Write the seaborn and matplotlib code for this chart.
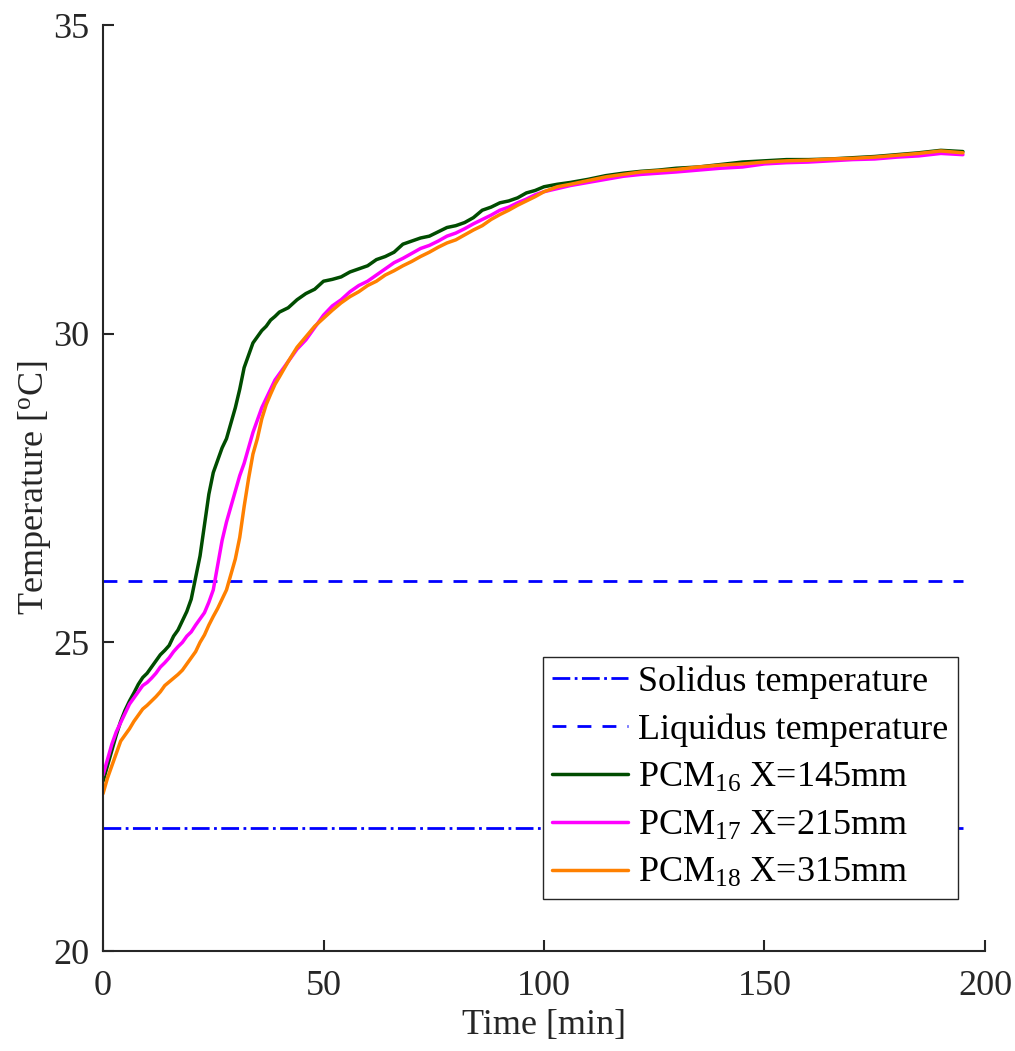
import matplotlib
matplotlib.use("Agg")
import matplotlib.pyplot as plt
import seaborn as sns
import pandas as pd

# ---- data ----
t_pcm16 = [0,1,2,3,4,5,6,7,8,9,10,11,12,13,14,15,16,17,18,19,20,21,22,23,24,25,26,27,28,29,30,31,32,33,34,35,36,37,38,39,40,42,44,46,48,50,52,54,56,58,60,62,64,66,68,70,72,74,76,78,80,82,84,86,88,90,92,94,96,98,100,103,106,110,114,118,122,126,130,135,140,145,150,155,160,165,170,175,180,185,190,195]
T_pcm16 = [22.75,23.0,23.25,23.5,23.72,23.9,24.05,24.18,24.32,24.43,24.5,24.6,24.7,24.8,24.87,24.95,25.1,25.2,25.35,25.5,25.7,26.05,26.4,26.9,27.4,27.75,27.95,28.15,28.3,28.55,28.8,29.1,29.45,29.65,29.85,29.95,30.05,30.12,30.22,30.28,30.35,30.42,30.55,30.65,30.72,30.85,30.88,30.92,31.0,31.05,31.1,31.2,31.25,31.32,31.45,31.5,31.55,31.58,31.65,31.72,31.75,31.8,31.88,32.0,32.05,32.12,32.15,32.2,32.28,32.32,32.38,32.42,32.45,32.5,32.56,32.6,32.63,32.65,32.68,32.7,32.74,32.78,32.8,32.82,32.82,32.83,32.85,32.87,32.9,32.93,32.97,32.95]

t_pcm17 = t_pcm16
T_pcm17 = [22.85,23.1,23.35,23.55,23.7,23.85,24.0,24.1,24.2,24.3,24.35,24.42,24.5,24.6,24.67,24.75,24.85,24.93,25.0,25.1,25.17,25.28,25.38,25.48,25.65,25.85,26.25,26.65,26.95,27.2,27.45,27.7,27.9,28.15,28.4,28.6,28.8,28.95,29.1,29.25,29.35,29.55,29.75,29.9,30.1,30.3,30.45,30.55,30.68,30.78,30.85,30.95,31.05,31.15,31.22,31.3,31.38,31.43,31.5,31.58,31.63,31.7,31.78,31.85,31.92,32.0,32.05,32.12,32.18,32.25,32.3,32.35,32.4,32.45,32.5,32.55,32.58,32.6,32.62,32.65,32.68,32.7,32.75,32.77,32.78,32.8,32.82,32.83,32.86,32.88,32.92,32.9]

t_pcm18 = t_pcm16
T_pcm18 = [22.55,22.8,23.0,23.2,23.4,23.5,23.6,23.72,23.82,23.92,23.98,24.05,24.12,24.2,24.3,24.36,24.42,24.48,24.55,24.65,24.75,24.85,25.0,25.12,25.28,25.42,25.55,25.7,25.85,26.1,26.35,26.7,27.2,27.65,28.05,28.3,28.62,28.85,29.02,29.18,29.3,29.55,29.78,29.95,30.12,30.25,30.38,30.5,30.6,30.68,30.78,30.85,30.95,31.02,31.1,31.17,31.25,31.32,31.4,31.47,31.52,31.6,31.68,31.75,31.85,31.93,32.0,32.08,32.15,32.22,32.3,32.38,32.42,32.48,32.54,32.58,32.62,32.64,32.66,32.7,32.73,32.75,32.78,32.8,32.81,32.83,32.84,32.86,32.89,32.92,32.96,32.93]

solidus_T = 22.0
liquidus_T = 26.0
ref_t = [0, 195]

labels = ["Solidus temperature", "Liquidus temperature",
          "PCM$_{16}$ X=145mm", "PCM$_{17}$ X=215mm", "PCM$_{18}$ X=315mm"]
colors = ["#0000FF", "#0000FF", "#004C00", "#FF00FF", "#FF8000"]

x_ticks = [0, 50, 100, 150, 200]
y_ticks = [20, 25, 30, 35]

# ---- style ----
sns.set_theme(style="ticks")
plt.rcParams["font.family"] = ["Liberation Serif", "DejaVu Serif"]
plt.rcParams["mathtext.fontset"] = "custom"
plt.rcParams["mathtext.rm"] = "Liberation Serif"
plt.rcParams["mathtext.it"] = "Liberation Serif:italic"

fig = plt.figure(figsize=(10.15, 10.51), dpi=100)
ax = fig.add_axes([0.1015, 0.0951, 0.8689, 0.8811])

ax.plot(ref_t, [solidus_T, solidus_T], color=colors[0], ls="-.", lw=2.0, label=labels[0])
ax.plot(ref_t, [liquidus_T, liquidus_T], color=colors[1], ls=(0, (5, 4)), lw=2.0, label=labels[1])

series = [(t_pcm16, T_pcm16), (t_pcm17, T_pcm17), (t_pcm18, T_pcm18)]
for (tt, TT), lab, col in zip(series, labels[2:], colors[2:]):
    df = pd.DataFrame({"t": tt, "T": TT})
    sns.lineplot(data=df, x="t", y="T", ax=ax, color=col, lw=2.5, label=lab)

ax.set_xlim(0, 200)
ax.set_ylim(20, 35)
ax.set_xticks(x_ticks)
ax.set_yticks(y_ticks)
ax.tick_params(direction="in", length=8, width=1.5, labelsize=26, colors="#262626",
               labelcolor="#262626")
ax.tick_params(axis="x", pad=14)
ax.tick_params(axis="y", pad=10)
for s in ["top", "right"]:
    ax.spines[s].set_visible(False)
for s in ["left", "bottom"]:
    ax.spines[s].set_linewidth(1.5)
    ax.spines[s].set_color("#262626")

ax.set_xlabel("Time [min]", fontsize=26, color="#262626", labelpad=4)
ax.set_ylabel("Temperature [$^{\\rm o}$C]", fontsize=26, color="#262626", labelpad=0)

leg = ax.legend(loc="lower right", bbox_to_anchor=(0.969, 0.056), fontsize=26,
                frameon=True, fancybox=False, framealpha=1.0, edgecolor="#262626",
                handlelength=2.1, handletextpad=0.28, borderpad=0.25,
                labelspacing=0.4, borderaxespad=0)
leg.get_frame().set_linewidth(1.0)
for txt in leg.get_texts():
    txt.set_color("black")

fig.savefig("out.png", dpi=100)
